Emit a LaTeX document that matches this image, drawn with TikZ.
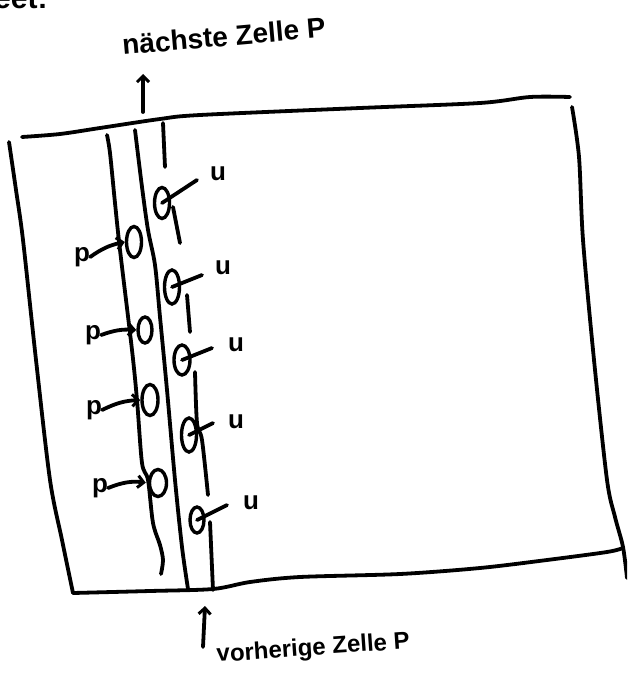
\documentclass[tikz,border=0pt]{standalone}
\usepackage{fontspec}
\setmainfont{Liberation Sans}
\usetikzlibrary{shapes.geometric,arrows.meta}
\begin{document}
\begin{tikzpicture}[x=1pt,y=-1pt,
  ink/.style={line width=3.8pt, line cap=round, line join=round},
  cellc/.style={ellipse, draw, line width=3.4pt, inner sep=0pt},
  lab/.style={font=\bfseries\fontsize{26}{26}\selectfont, inner sep=0pt},
  ttl/.style={inner sep=0pt, anchor=base west},
  ptr/.style={-{Straight Barb[length=6pt,width=12pt,line width=3pt]}}
]
\useasboundingbox (0,0) rectangle (627,674);
\clip (0,0) rectangle (627,674);

% fragment of text cut at the top edge
\node[ttl, font=\bfseries\fontsize{30}{30}\selectfont] (frag) at (-6,9) {eet:};

% outer box
\draw[ink] plot[smooth,tension=0.5] coordinates {(22,137) (60,134) (100,128) (160,119) (200,115) (360,108) (480,103) (530,97) (570,97)};
\draw[ink] plot[smooth,tension=0.5] coordinates {(9,142) (16,190) (23,240) (36,360) (50,480) (62,540) (73,593)};
\draw[ink] plot[smooth,tension=0.5] coordinates {(73,593) (150,591) (213,589) (250,582) (300,577) (400,574) (480,568) (547,560) (607,552) (623,548)};
\draw[ink] plot[smooth,tension=0.5] coordinates {(572,107) (579,157) (583,240) (594,360) (607,480) (615,517) (623,547) (627,578)};

% inner cell walls
\draw[ink] plot[smooth,tension=0.5] coordinates {(107,135) (110,153) (115,203) (120,250) (132,350) (137,400) (142,463) (148,480) (153,523) (160,545) (163,560) (161,574)};
\draw[ink] plot[smooth,tension=0.5] coordinates {(135,130) (142,187) (148,230) (155,265) (160,317) (167,390) (175,480) (182,547) (188,589)};

% u line segments
\draw[ink] (163,123) -- (165,167);
\draw[ink] (173,207) -- (180,243);
\draw[ink] (187,295) -- (190,332);
\draw[ink] plot[smooth,tension=0.5] coordinates {(195,372) (197,423) (202,440) (208,495)};
\draw[ink] (210,522) -- (213,590);

% p cells
\node[cellc, minimum width=15pt, minimum height=31pt] (p1) at (134,242) {};
\node[cellc, minimum width=14pt, minimum height=26pt] (p2) at (145,330) {};
\node[cellc, minimum width=16pt, minimum height=31pt] (p3) at (150,400) {};
\node[cellc, minimum width=17pt, minimum height=27pt] (p4) at (158,483) {};

\node[lab] (lp1) at (82,257) {p};
\node[lab] (lp2) at (93,335) {p};
\node[lab] (lp3) at (94,410) {p};
\node[lab] (lp4) at (100,488) {p};

\draw[ink,ptr] (lp1.east) to[bend left=12] (p1.west);
\draw[ink,ptr] (lp2.east) to[bend left=12] (p2.west);
\draw[ink,ptr] (lp3.east) to[bend left=12] (p3.west);
\draw[ink,ptr,shorten >=2pt] (lp4.east) to[bend left=15] (p4.west);

% u cells
\node[cellc, minimum width=15pt, minimum height=31pt] (u1) at (162,203) {};
\node[cellc, minimum width=15pt, minimum height=34pt] (u2) at (172,287) {};
\node[cellc, minimum width=16pt, minimum height=30pt] (u3) at (182,360) {};
\node[cellc, minimum width=15pt, minimum height=34pt] (u4) at (189,435) {};
\node[cellc, minimum width=14pt, minimum height=26pt] (u5) at (197,520) {};

\node[lab] (lu1) at (218,174) {u};
\node[lab] (lu2) at (223,268) {u};
\node[lab] (lu3) at (236,345) {u};
\node[lab] (lu4) at (236,422) {u};
\node[lab] (lu5) at (251,503) {u};

\coordinate (su1) at (197,180);
\coordinate (su2) at (202,275);
\coordinate (su3) at (212,348);
\coordinate (su4) at (213,423);
\coordinate (su5) at (227,505);
\draw[ink] (u1.center) -- (su1);
\draw[ink] (u2.center) -- (su2);
\draw[ink] (u3.center) -- (su3);
\draw[ink] (u4.center) -- (su4);
\draw[ink] (u5.center) -- (su5);

% titles and pointers
\node[ttl, rotate=5, font=\bfseries\fontsize{28}{28}\selectfont] (next) at (123,55) {nächste Zelle P};
\node[ttl, rotate=4, font=\bfseries\fontsize{24}{24}\selectfont] (prev) at (217,662) {vorherige Zelle P};

\coordinate (ta) at (143,112);
\coordinate (th) at (143,74);
\draw[ink,ptr] (ta) -- (th);
\coordinate (ba) at (203,647);
\coordinate (bh) at (205,606);
\draw[ink,ptr] (ba) -- (bh);
\end{tikzpicture}
\end{document}
